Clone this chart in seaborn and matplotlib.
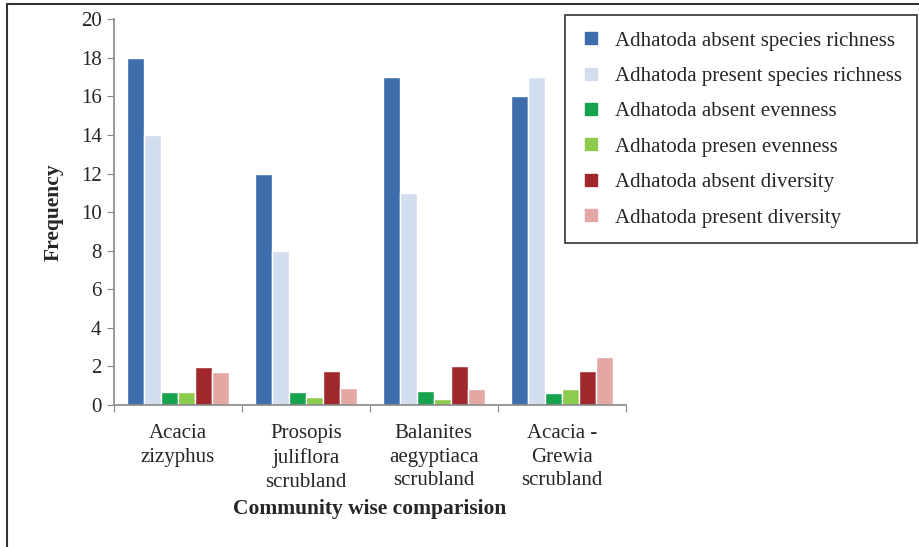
import pandas as pd
import matplotlib.pyplot as plt
import seaborn as sns
from matplotlib.lines import Line2D

# Data
communities = ['Acacia\nzizyphus', 'Prosopis\njuliflora\nscrubland',
               'Balanites\naegyptiaca\nscrubland', 'Acacia -\nGrewia\nscrubland']
series = ['Adhatoda absent species richness', 'Adhatoda present species richness',
          'Adhatoda absent evenness', 'Adhatoda presen evenness',
          'Adhatoda absent diversity', 'Adhatoda present diversity']
absent_richness = [18, 12, 17, 16]
present_richness = [14, 8, 11, 17]
absent_evenness = [0.68, 0.7, 0.72, 0.6]
present_evenness = [0.68, 0.4, 0.3, 0.85]
absent_diversity = [1.97, 1.78, 2.0, 1.75]
present_diversity = [1.7, 0.88, 0.85, 2.48]
colors = ['#3E6DAC', '#D2DDEE', '#16A34E', '#8CCB4E', '#A0282C', '#E3A7A4']

values = [absent_richness, present_richness, absent_evenness,
          present_evenness, absent_diversity, present_diversity]
rows = []
for name, vals in zip(series, values):
    for comm, v in zip(communities, vals):
        rows.append({'Community': comm, 'Series': name, 'Frequency': v})
df = pd.DataFrame(rows)

sns.set_style('white')
plt.rcParams['font.family'] = ['Liberation Serif', 'DejaVu Serif']

fig = plt.figure(figsize=(9.2, 5.47), dpi=100)
ax = fig.add_axes([0.124, 0.2596, 0.556, 0.705])
sns.barplot(data=df, x='Community', y='Frequency', hue='Series',
            palette=colors, width=0.8, saturation=1, ax=ax, legend=False)

ax.set_ylim(0, 20)
ax.set_yticks(range(0, 21, 2))
ax.set_xlim(-0.5, 3.5)
ax.set_xticks([-0.5, 0.5, 1.5, 2.5, 3.5], minor=False)
ax.set_xticklabels([])
ax.set_xticks([0, 1, 2, 3], minor=True)
ax.set_xticklabels(communities, minor=True, fontsize=15, linespacing=1.32)
ax.tick_params(axis='x', which='minor', length=0, pad=14)
ax.tick_params(axis='x', which='major', length=5, color='#888888', direction='out')
ax.tick_params(axis='y', length=5, color='#888888', direction='out', labelsize=15, pad=4)
ax.xaxis.set_ticks_position('bottom')
ax.yaxis.set_ticks_position('left')

for s in ['top', 'right']:
    ax.spines[s].set_visible(False)
for s in ['left', 'bottom']:
    ax.spines[s].set_color('#888888')
    ax.spines[s].set_linewidth(1.2)

ax.set_xlabel('Community wise comparision', fontsize=15.5, fontweight='bold', labelpad=5)
ax.set_ylabel('Frequency', fontsize=15.5, fontweight='bold', labelpad=12)

handles = [Line2D([], [], marker='s', linestyle='none', markersize=9,
                  markerfacecolor=c, markeredgecolor=c) for c in colors]
leg = fig.legend(handles, series, loc='upper right', bbox_to_anchor=(0.997, 0.972),
                 fontsize=15, frameon=True, fancybox=False, labelspacing=0.76,
                 handlelength=1.0, handletextpad=0.65, borderpad=0.75, borderaxespad=0)
leg.get_frame().set_edgecolor('black')
leg.get_frame().set_linewidth(1.2)

# outer frame (left and top edges)
fig.add_artist(Line2D([0.008, 0.008], [0, 0.993], color='#333333', lw=1.5, transform=fig.transFigure))
fig.add_artist(Line2D([0.008, 1.0], [0.993, 0.993], color='#333333', lw=1.5, transform=fig.transFigure))

fig.savefig('out.png', dpi=100)
